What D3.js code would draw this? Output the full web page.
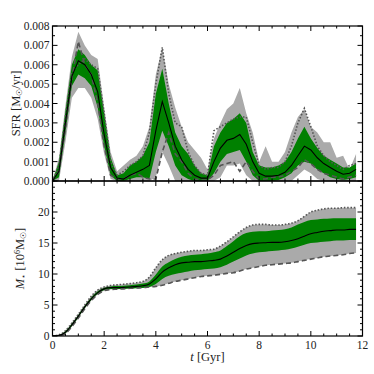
<!DOCTYPE html>
<html><head><meta charset="utf-8">
<script src="https://cdn.jsdelivr.net/npm/d3@7"></script>
<style>body{margin:0;background:#fff}svg{display:block}text{font-family:"Liberation Serif","DejaVu Serif",serif}</style>
</head><body><svg id="c" width="374" height="374"></svg>
<script>
// time grid [Gyr]
const t = [0,0.25,0.5,0.75,1,1.25,1.5,1.75,2,2.25,2.5,2.75,3,3.25,3.5,3.75,4,4.25,4.5,4.75,5,5.25,5.5,5.75,6,6.25,6.5,6.75,7,7.25,7.5,7.75,8,8.25,8.5,8.75,9,9.25,9.5,9.75,10,10.25,10.5,10.75,11,11.25,11.5,11.75];
// SFR in 1e-3 Msun/yr
const sfrMed   = [0,0.5,3.0,5.4,6.2,6.0,5.5,4.6,2.4,0.7,0.15,0.1,0.3,0.45,0.6,0.8,2.6,4.1,3.0,1.8,1.1,0.6,0.3,0.15,0.15,1.0,1.7,2.1,2.2,2.4,1.9,1.0,0.4,0.25,0.25,0.3,0.45,0.8,1.3,1.8,1.6,1.2,0.9,0.7,0.5,0.35,0.4,0.6];
const sfrG_hi  = [0,1.0,3.6,6.0,6.8,6.5,6.0,5.7,3.5,1.2,0.3,0.4,0.8,1.0,1.3,2.0,4.5,5.8,4.0,2.5,1.8,1.4,0.8,0.4,0.3,1.8,2.5,3.0,3.2,3.5,3.0,1.5,0.8,0.7,0.7,0.8,1.0,1.5,2.2,2.8,2.2,1.7,1.3,1.1,0.9,0.7,0.7,0.9];
const sfrG_lo  = [0,0.2,2.5,4.9,5.5,5.3,4.9,3.8,1.8,0.3,0,0,0.1,0.2,0.2,0.1,1.5,2.6,1.8,0.8,0.3,0.1,0,0,0,0.4,1.0,1.4,1.5,1.6,1.0,0.3,0,0,0,0.05,0.2,0.4,0.8,1.0,0.9,0.6,0.4,0.2,0.1,0.05,0.1,0.2];
const sfrS_hi  = [0,1.2,3.9,6.4,7.7,7.0,6.5,6.3,3.8,1.5,0.5,0.8,1.1,1.3,1.8,2.8,5.5,6.9,5.0,3.8,2.8,2.0,1.6,1.2,0.6,2.2,3.0,3.7,4.0,4.8,3.5,2.5,1.0,1.8,1.0,1.0,1.5,2.5,3.3,3.7,2.8,2.5,2.0,2.0,1.2,1.3,0.6,1.4];
const sfrS_lo  = [0,0,2.0,4.3,4.8,4.8,4.3,3.2,1.4,0.1,0,0,0,0,0,0,0.2,1.5,0.8,0,0,0,0,0,0,0,0.2,0.8,0.8,0.9,0.3,0,0,0,0,0,0,0,0.3,0.6,0.4,0.1,0,0,0,0,0,0];
const sfrDot   = [0,0.8,3.3,5.6,6.0,6.3,6.0,5.8,3.5,1.0,0.3,0.5,0.8,1.0,1.3,2.5,5.0,6.9,4.5,3.0,2.8,1.5,0.8,0.4,0.3,2.6,2.8,3.0,3.2,3.3,3.3,2.0,0.8,0.6,0.7,0.7,1.0,1.8,3.0,3.75,2.8,1.8,1.3,1.0,0.8,0.6,0.8,0.9];
const sfrDash  = [0,0.5,2.7,5.3,7.2,6.0,5.5,4.0,1.8,0.3,0.1,0.1,0.3,0.4,0.2,0.1,0.1,1.5,2.5,1.4,1.0,0.4,0.1,0.05,0.05,0.3,0.8,0.9,1.0,0.5,1.0,0.5,0.1,0.1,0.2,0.2,0.3,0.5,0.7,1.1,0.9,0.6,0.4,0.3,0.2,0.1,0.2,0.3];
// stellar mass in 1e6 Msun
const mMed   = [0,0.1,0.6,1.8,3.2,4.7,6.0,7.0,7.6,7.8,7.8,7.85,7.9,8.0,8.1,8.4,9.2,10.3,11.0,11.5,11.8,11.9,12.0,12.0,12.1,12.2,12.4,12.9,13.5,14.1,14.6,14.9,15.0,15.05,15.1,15.1,15.2,15.4,15.7,16.1,16.5,16.7,16.9,17.0,17.1,17.1,17.2,17.2];
const mG_hi  = [0,0.15,0.75,2.0,3.4,4.9,6.2,7.2,7.8,8.0,8.05,8.1,8.2,8.3,8.45,8.8,9.9,11.2,11.9,12.4,12.8,13.0,13.1,13.2,13.3,13.5,13.8,14.5,15.3,16.1,16.6,16.8,16.9,16.9,17.0,17.1,17.2,17.5,18.0,18.4,18.7,18.8,18.9,18.95,19.0,19.0,19.0,19.0];
const mG_lo  = [0,0.05,0.45,1.6,3.0,4.5,5.8,6.8,7.4,7.6,7.6,7.6,7.65,7.7,7.75,7.9,8.4,9.2,9.7,10.0,10.2,10.4,10.6,10.7,10.8,10.9,11.1,11.5,12.0,12.5,13.0,13.3,13.5,13.6,13.7,13.8,13.9,14.1,14.4,14.7,15.0,15.1,15.2,15.3,15.4,15.4,15.5,15.5];
const mDot   = [0,0.2,0.85,2.1,3.5,5.0,6.4,7.4,7.9,8.15,8.25,8.35,8.45,8.6,8.8,9.5,11.0,12.3,13.0,13.3,13.5,13.65,13.8,13.8,13.9,14.0,14.5,15.2,16.0,16.8,17.5,17.9,18.0,18.0,17.9,17.9,18.0,18.2,18.6,19.3,20.0,20.3,20.5,20.6,20.6,20.7,20.7,20.7];
const mDash  = [0,0.05,0.4,1.5,2.9,4.4,5.7,6.7,7.3,7.5,7.55,7.6,7.7,7.75,7.8,7.9,8.0,8.2,8.5,8.8,9.0,9.2,9.4,9.6,9.7,9.8,9.95,10.1,10.2,10.5,10.8,11.0,11.2,11.4,11.5,11.6,11.7,11.8,12.0,12.2,12.4,12.6,12.8,12.9,13.0,13.1,13.3,13.4];

const xTicks = [0,2,4,6,8,10,12];
const sfrTicks = [0,0.001,0.002,0.003,0.004,0.005,0.006,0.007,0.008];
const mTicks = [0,5,10,15,20];

const svg = d3.select("#c");
const L=52.5, R=362.5, T1=26, B1=181, T2=181, B2=336;
const x = d3.scaleLinear().domain([0,12]).range([L,R]);
const y1 = d3.scaleLinear().domain([0,0.008]).range([B1,T1]);
const y2 = d3.scaleLinear().domain([0,25]).range([B2,T2]);

const GRAY="#aaaaaa", GREEN="#008000", LINE="#555555";

function panel(y, hi, lo, ghi, glo, med, dot, dash, scale, curve, clipId, top, bot){
  svg.append("clipPath").attr("id",clipId).append("rect").attr("x",L).attr("y",top).attr("width",R-L).attr("height",bot-top);
  const g = svg.append("g").attr("clip-path",`url(#${clipId})`);
  const area=(a,b)=>d3.area().curve(curve).x((d,i)=>x(t[i])).y0((d,i)=>y(b[i]*scale)).y1((d,i)=>y(a[i]*scale));
  const line=(a)=>d3.line().curve(curve).x((d,i)=>x(t[i])).y((d,i)=>y(a[i]*scale));
  g.append("path").attr("d",area(hi,lo)(t)).attr("fill",GRAY);
  g.append("path").attr("d",area(ghi,glo)(t)).attr("fill",GREEN);
  g.append("path").attr("d",line(dot)(t)).attr("fill","none").attr("stroke",LINE).attr("stroke-width",1.6).attr("stroke-dasharray","1.5,1.8");
  g.append("path").attr("d",line(dash)(t)).attr("fill","none").attr("stroke",LINE).attr("stroke-width",1.6).attr("stroke-dasharray","5,3");
  g.append("path").attr("d",line(med)(t)).attr("fill","none").attr("stroke","#000").attr("stroke-width",1.1);
}
panel(y1, sfrS_hi, sfrS_lo, sfrG_hi, sfrG_lo, sfrMed, sfrDot, sfrDash, 0.001, d3.curveLinear, "c1", T1, B1);
panel(y2, mDot, mDash, mG_hi, mG_lo, mMed, mDot, mDash, 1, d3.curveMonotoneX, "c2", T2, B2);

function frame(y, top, bot, majY, minStep, yDom, labels){
  const g = svg.append("g").attr("stroke","#000").attr("stroke-width",1);
  for(let v=0; v<=12.001; v+=0.5){
    const len = (Math.abs(v/2-Math.round(v/2))<1e-6)?5:2.5;
    g.append("line").attr("x1",x(v)).attr("x2",x(v)).attr("y1",bot).attr("y2",bot-len);
    g.append("line").attr("x1",x(v)).attr("x2",x(v)).attr("y1",top).attr("y2",top+len);
  }
  const n = Math.round((yDom[1]-yDom[0])/minStep);
  for(let k=0;k<=n;k++){
    const v=yDom[0]+k*minStep;
    const isMaj = majY.some(m=>Math.abs(m-v)<minStep*1e-3);
    const len = isMaj?5:2.5;
    g.append("line").attr("x1",L).attr("x2",L+len).attr("y1",y(v)).attr("y2",y(v));
    g.append("line").attr("x1",R).attr("x2",R-len).attr("y1",y(v)).attr("y2",y(v));
  }
  svg.append("rect").attr("x",L).attr("y",top).attr("width",R-L).attr("height",bot-top).attr("fill","none").attr("stroke","#000").attr("stroke-width",1.2);
  svg.append("g").selectAll("text").data(majY).join("text")
    .attr("x",L-3).attr("y",d=>y(d)).attr("dy","0.35em").attr("text-anchor","end")
    .attr("font-size",11.5).attr("fill","#222").text(labels);
}
frame(y1, T1, B1, sfrTicks, 0.0005, [0,0.008], d=>d.toFixed(3));
frame(y2, T2, B2, mTicks, 1, [0,25], d=>d);

svg.append("g").selectAll("text").data(xTicks).join("text")
  .attr("x",d=>x(d)).attr("y",B2+13).attr("text-anchor","middle")
  .attr("font-size",11.5).attr("fill","#222").text(d=>d);

const yl1 = svg.append("text").attr("transform",`translate(20,${(T1+B1)/2}) rotate(-90)`).attr("text-anchor","middle").attr("font-size",12.5).attr("fill","#222");
yl1.append("tspan").text("SFR [M");
yl1.append("tspan").attr("font-size",8).attr("dy",2).text("☉");
yl1.append("tspan").attr("dy",-2).text("/yr]");

const yl2 = svg.append("text").attr("transform",`translate(24,${(T2+B2)/2}) rotate(-90)`).attr("text-anchor","middle").attr("font-size",12.5).attr("fill","#222");
yl2.append("tspan").attr("font-style","italic").text("M");
yl2.append("tspan").attr("font-size",8).attr("dy",2).text("⋆");
yl2.append("tspan").attr("dy",-2).text(" [10");
yl2.append("tspan").attr("font-size",8).attr("dy",-4).text("6");
yl2.append("tspan").attr("dy",4).text("M");
yl2.append("tspan").attr("font-size",8).attr("dy",2).text("☉");
yl2.append("tspan").attr("dy",-2).text("]");

const xl = svg.append("text").attr("x",(L+R)/2).attr("y",361).attr("text-anchor","middle").attr("font-size",12.5).attr("fill","#222");
xl.append("tspan").attr("font-style","italic").text("t");
xl.append("tspan").text(" [Gyr]");
</script></body></html>
